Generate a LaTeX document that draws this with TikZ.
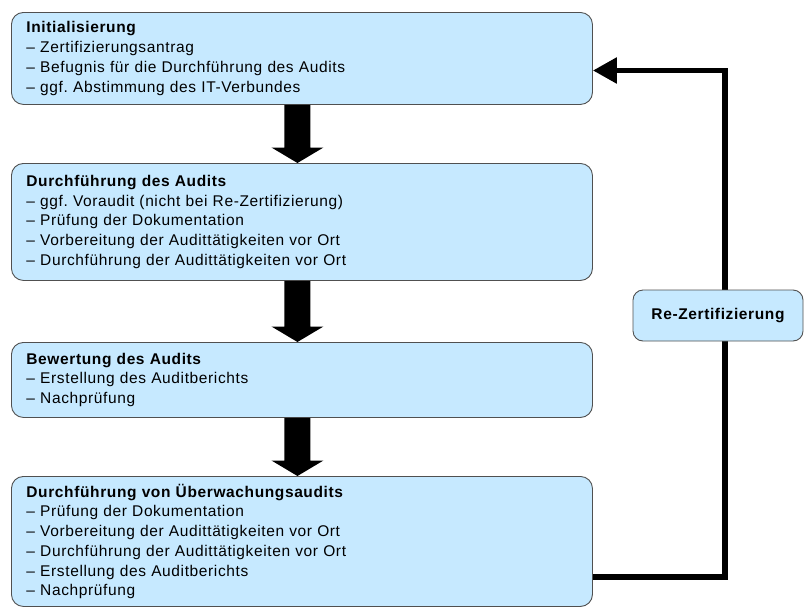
\documentclass[tikz,border=0pt]{standalone}
\usepackage{fontspec}
\setmainfont{Liberation Sans}[LetterSpace=4]
\usetikzlibrary{arrows.meta,calc}
\definecolor{boxblue}{RGB}{198,233,255}
\definecolor{boxline}{RGB}{80,80,80}
\frenchspacing
\tikzset{
  stagebox/.style={draw=boxline, line width=0.9pt, fill=boxblue, rounded corners=12pt,
    rectangle, anchor=north west, minimum width=581pt, text width=551pt,
    inner xsep=15pt, inner ysep=0pt, align=left,
    font=\fontsize{15.5}{19.7}\selectfont},
  feedback/.style={line width=5.5pt, draw=black},
}
\newcommand{\blockarrow}[2]{%
  \fill let \p1=(#1.south), \p2=(#2.north) in
    (\x1-17.5pt,\y1) -- (\x1+8.5pt,\y1) -- (\x1+8.5pt,\y2+15.5pt) --
    (\x1+21.5pt,\y2+15.5pt) -- (\x1-4.5pt,\y2) -- (\x1-30.5pt,\y2+15.5pt) --
    (\x1-17.5pt,\y2+15.5pt) -- cycle;}
\begin{document}
\begin{tikzpicture}[x=1pt,y=-1pt]
\useasboundingbox (0,0) rectangle (805,608);
\node[stagebox, minimum height=92pt] (b1) at (11,12) {\textbf{Initialisierung}\\
– Zertifizierungsantrag\\
– Befugnis für die Durchführung des Audits\\
– ggf. Abstimmung des IT-Verbundes};
\node[stagebox, minimum height=117pt] (b2) at (11,163) {\textbf{Durchführung des Audits}\\
– ggf. Voraudit (nicht bei Re-Zertifizierung)\\
– Prüfung der Dokumentation\\
– Vorbereitung der Audittätigkeiten vor Ort\\
– Durchführung der Audittätigkeiten vor Ort};
\node[stagebox, minimum height=75pt] (b3) at (11,342) {\textbf{Bewertung des Audits}\\
– Erstellung des Auditberichts\\
– Nachprüfung};
\node[stagebox, minimum height=130pt] (b4) at (11,476) {\textbf{Durchführung von Überwachungsaudits}\\
– Prüfung der Dokumentation\\
– Vorbereitung der Audittätigkeiten vor Ort\\
– Durchführung der Audittätigkeiten vor Ort\\
– Erstellung des Auditberichts\\
– Nachprüfung};
\blockarrow{b1}{b2}
\blockarrow{b2}{b3}
\blockarrow{b3}{b4}
\coordinate (c1) at (725,577);
\coordinate (c2) at (725,70.5);
\draw[feedback, -{Triangle[length=24pt,width=25pt]}]
  (b4.east |- c1) -- (c1) -- (c2) -- (b1.east |- c2);
\node[draw=boxline, line width=0.9pt, fill=boxblue, rounded corners=10pt,
  minimum width=170pt, minimum height=51pt, inner sep=0pt,
  font=\fontsize{15.5}{18}\selectfont\bfseries] (rz) at (718,315.5) {Re-Zertifizierung};
\end{tikzpicture}
\end{document}
